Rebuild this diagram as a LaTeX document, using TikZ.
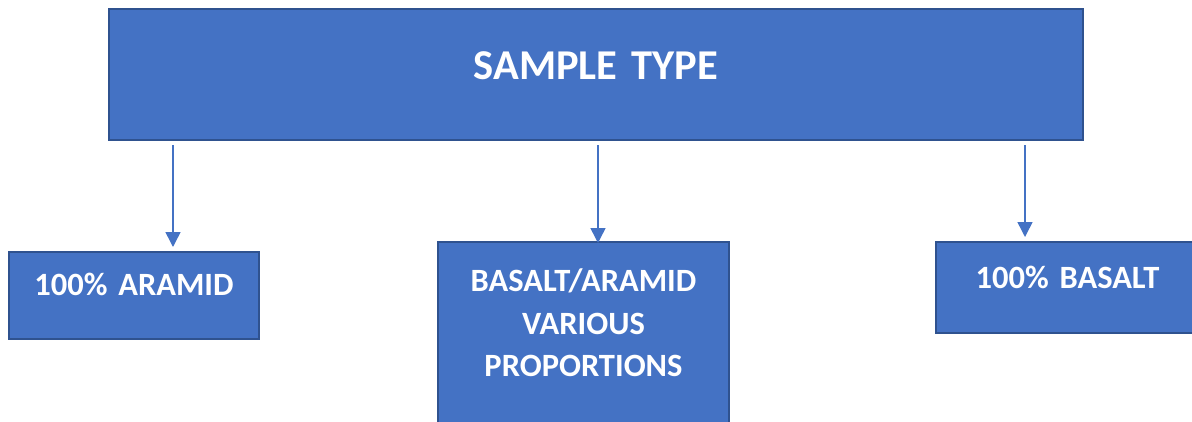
\documentclass[tikz,border=0pt]{standalone}
\usepackage{fontspec}
\setmainfont[WordSpace=0.8]{Carlito}
\usetikzlibrary{arrows.meta}
\definecolor{officeblue}{HTML}{4472C4}
\definecolor{officeedge}{HTML}{2F528F}
\begin{document}
\begin{tikzpicture}[x=1pt,y=-1pt,
  box/.style={draw=officeedge,line width=2pt,fill=officeblue,text=white,font=\bfseries\fontsize{32.5}{42.5}\selectfont,align=center,inner sep=0pt,anchor=north west},
  link/.style={draw=officeblue,line width=1.5pt,-{Triangle[width=15pt,length=15pt]}}]
\useasboundingbox (0,0) rectangle (1192,421);
% top level
\node[box,text width=974pt,text height=70pt,text depth=61pt,font=\bfseries\fontsize{42.5}{50}\selectfont] (sample) at (108,8) {SAMPLE TYPE};
% the three kinds of sample
\node[box,text width=250pt,text height=43.5pt,text depth=43.5pt] (aramid) at (8,251) {100\% ARAMID};
\node[box,text width=291pt,text height=49.5pt,text depth=139.5pt] (blend) at (437,241) {BASALT/ARAMID\\VARIOUS\\PROPORTIONS};
\node[box,text width=263pt,text height=46.5pt,text depth=44.5pt] (basalt) at (935,241) {100\% BASALT};
% arrows down from the top box
\foreach \x/\n/\d in {173/aramid/4,598/blend/-2,1025/basalt/4}
  \draw[link] ([yshift=-4pt]sample.south -| \x,0) -- ([yshift=\d pt]\n.north -| \x,0);
\end{tikzpicture}
\end{document}
